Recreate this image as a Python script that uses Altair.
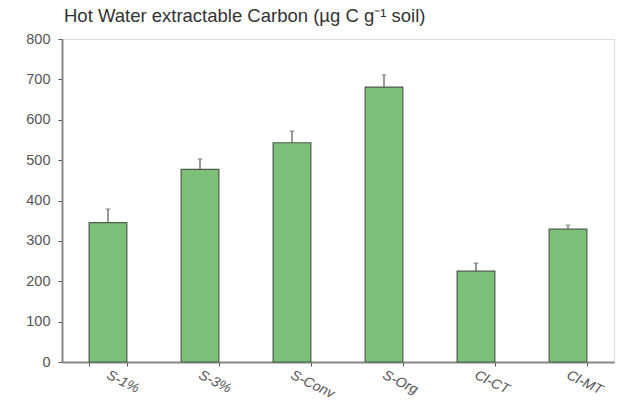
import altair as alt
import pandas as pd

categories = ["S-1%", "S-3%", "S-Conv", "S-Org", "Cl-CT", "Cl-MT"]
values = [345, 477, 543, 681, 225, 329]
errors = [34, 26, 29, 30, 20, 10]

df = pd.DataFrame({"cat": categories, "val": values, "err": errors})
df["upper"] = df["val"] + df["err"]

x = alt.X("cat:N", sort=categories, title=None,
          scale=alt.Scale(paddingInner=0.59, paddingOuter=0.295),
          axis=alt.Axis(labelAngle=26, labelAlign="left", labelBaseline="middle",
                        labelFontStyle="italic", labelFont="Liberation Sans",
                        labelFontSize=14, labelColor="#555555", labelPadding=8,
                        tickBand="extent", tickSize=4, tickColor="#555555",
                        domainColor="#888888", domainWidth=2, labelOffset=-1))
y = alt.Y("val:Q", title=None,
          scale=alt.Scale(domain=[0, 800], nice=False),
          axis=alt.Axis(values=list(range(0, 801, 100)), tickSize=4,
                        tickColor="#555555", domainColor="#888888", domainWidth=2,
                        labelFont="Liberation Sans", labelFontSize=14.5,
                        labelColor="#555555", labelPadding=8, grid=False))

bars = alt.Chart(df).mark_bar(color="#7dc07a", stroke="#4a5e4a", strokeWidth=1.2).encode(
    x=x, y=y)

err = alt.Chart(df).mark_rule(color="#555555", strokeWidth=1.2).encode(
    x=alt.X("cat:N", sort=categories), y="val:Q", y2="upper:Q")

cap = alt.Chart(df).mark_tick(color="#555555", thickness=1, size=5).encode(
    x=alt.X("cat:N", sort=categories), y="upper:Q")

chart = (bars + err + cap).properties(
    width=552, height=323,
    title=alt.TitleParams("Hot Water extractable Carbon (µg C g\u207b\u00b9 soil)",
                          anchor="start", frame="group", font="Liberation Sans",
                          fontSize=18.5, fontWeight="normal", color="#333333", offset=6,
                          dx=2),
    autosize=alt.AutoSizeParams(type="none"),
    padding={"left": 62, "top": 39, "right": 3, "bottom": 40},
).configure_view(stroke="#888888", strokeWidth=1.5).configure(background="white")

chart.save("out.html", embed_options={"renderer": "svg", "actions": False})
